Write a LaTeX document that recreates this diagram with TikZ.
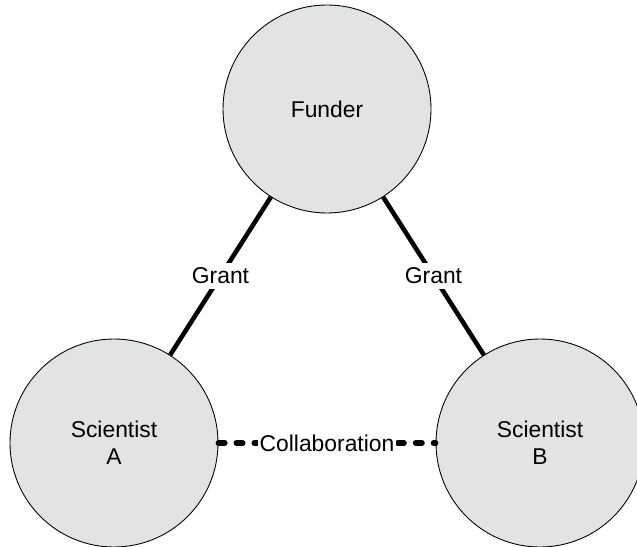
\documentclass[tikz,border=0pt]{standalone}
\usepackage{fontspec}
\setmainfont{Liberation Sans}
\usetikzlibrary{positioning}
\definecolor{partyfill}{RGB}{226,227,227}

\begin{document}
\begin{tikzpicture}[
party/.style={circle, draw=black, fill=partyfill, line width=0.5pt, minimum size=4.16cm, inner sep=0pt, align=center, font=\fontsize{13}{15.6}\selectfont},
grant_line/.style={line width=2.6pt},
collab_line/.style={line width=3.2pt, line cap=round, dash pattern=on 3.6pt off 6.6pt},
edge_text/.style={fill=white, midway, font=\fontsize{13}{15.6}\selectfont}
]

% page frame of the reference
\useasboundingbox (0,0) rectangle (12.74,-10.92);

% \node[party](name_of_node) at (x,y) {node_text}
\node[party](funder) at (6.54,-2.18) {Funder};
\node[party](scientist_a) at (2.28,-8.86) {Scientist\\A};
\node[party](scientist_b) at (10.8,-8.86) {Scientist\\B};

% \draw[style](name_of_node) to [] node[]{edge_text} (name_of_node)
\draw[grant_line](funder) to [] node[edge_text, inner sep=3pt]{Grant} (scientist_a);
\draw[grant_line](funder) to [] node[edge_text, inner sep=3pt]{Grant} (scientist_b);

\draw[collab_line](scientist_a) to [] node[edge_text, inner sep=1pt]{Collaboration} (scientist_b);

\end{tikzpicture}
\end{document}
